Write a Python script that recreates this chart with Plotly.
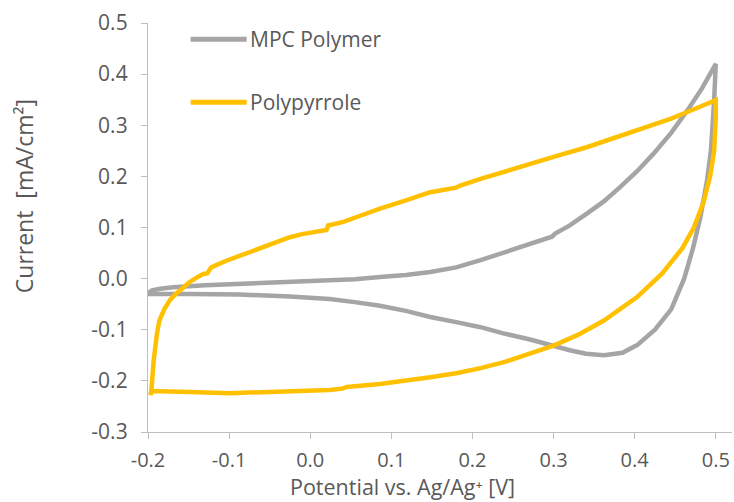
import plotly.graph_objects as go

# ---- data ----
mpc_x = [-0.200, -0.195, -0.185, -0.169, -0.130, -0.087, -0.025, 0.024, 0.055, 0.086,
         0.118, 0.148, 0.180, 0.210, 0.240, 0.271, 0.298, 0.302, 0.320, 0.341,
         0.362, 0.382, 0.403, 0.423, 0.445, 0.465, 0.483, 0.499, 0.500,
         0.498, 0.494, 0.489, 0.481, 0.472, 0.461, 0.445, 0.425, 0.403, 0.385,
         0.362, 0.340, 0.320, 0.300, 0.271, 0.238, 0.210, 0.180, 0.148, 0.118,
         0.086, 0.055, 0.024, -0.025, -0.087, -0.150, -0.200]
mpc_y = [-0.028, -0.023, -0.020, -0.017, -0.013, -0.010, -0.007, -0.004, -0.001, 0.003,
         0.007, 0.013, 0.022, 0.036, 0.052, 0.068, 0.082, 0.088, 0.104, 0.127,
         0.151, 0.179, 0.210, 0.244, 0.285, 0.329, 0.372, 0.417, 0.420,
         0.350, 0.250, 0.190, 0.120, 0.060, 0.000, -0.060, -0.100, -0.130, -0.145,
         -0.150, -0.147, -0.140, -0.131, -0.119, -0.107, -0.095, -0.085, -0.075, -0.063,
         -0.053, -0.046, -0.040, -0.035, -0.031, -0.030, -0.030]

ppy_x = [-0.196, -0.193, -0.189, -0.186, -0.180, -0.173, -0.167, -0.161, -0.155, -0.149,
         -0.140, -0.132, -0.127, -0.122, -0.105, -0.087, -0.070, -0.055, -0.040, -0.025,
         -0.010, 0.000, 0.020, 0.022, 0.041, 0.060, 0.086, 0.118, 0.148, 0.180,
         0.185, 0.210, 0.240, 0.271, 0.300, 0.341, 0.380, 0.423, 0.445, 0.465,
         0.482, 0.498, 0.500,
         0.500, 0.498, 0.493, 0.485, 0.473, 0.459, 0.434, 0.403, 0.362, 0.330,
         0.300, 0.271, 0.240, 0.210, 0.180, 0.148, 0.118, 0.086, 0.045, 0.040,
         0.024, -0.013, -0.046, -0.099, -0.149, -0.196, -0.197]
ppy_y = [-0.222, -0.160, -0.108, -0.082, -0.060, -0.042, -0.032, -0.023, -0.015, -0.007,
         0.002, 0.009, 0.010, 0.022, 0.034, 0.045, 0.055, 0.064, 0.073, 0.081,
         0.087, 0.090, 0.095, 0.104, 0.111, 0.122, 0.137, 0.153, 0.169, 0.178,
         0.182, 0.195, 0.210, 0.225, 0.238, 0.257, 0.278, 0.300, 0.313, 0.326,
         0.338, 0.349, 0.349,
         0.316, 0.250, 0.200, 0.150, 0.100, 0.060, 0.010, -0.036, -0.082, -0.110,
         -0.131, -0.147, -0.163, -0.175, -0.185, -0.193, -0.200, -0.206, -0.212, -0.215,
         -0.218, -0.220, -0.222, -0.224, -0.222, -0.220, -0.228]

x_ticks = [-0.2, -0.1, 0.0, 0.1, 0.2, 0.3, 0.4, 0.5]
x_labels = ["-0.2", "-0.1", "0.0", "0.1", "0.2", "0.3", "0.4", "0.5"]
y_ticks = [-0.3, -0.2, -0.1, 0.0, 0.1, 0.2, 0.3, 0.4, 0.5]
y_labels = ["-0.3", "-0.2", "-0.1", "0.0", "0.1", "0.2", "0.3", "0.4", "0.5"]

series_names = ["MPC Polymer", "Polypyrrole"]
series_colors = ["#A5A5A5", "#FFC000"]
x_title = "Potential vs. Ag/Ag\u207a [V]"
y_title = "Current\u00a0 [mA/cm\u00b2]"

FONT = "Open Sans"
TXT = "#595959"
AX = "#BFBFBF"

fig = go.Figure()
fig.add_trace(go.Scatter(x=mpc_x, y=mpc_y, mode="lines", name=series_names[0],
                         line=dict(color=series_colors[0], width=4.5), showlegend=False))
fig.add_trace(go.Scatter(x=ppy_x, y=ppy_y, mode="lines", name=series_names[1],
                         line=dict(color=series_colors[1], width=4.5), showlegend=False))

# manual legend (Excel-style long samples)
leg_y = [0.960, 0.806]
for name, col, yy in zip(series_names, series_colors, leg_y):
    fig.add_shape(type="line", xref="paper", yref="paper", x0=0.073, x1=0.169,
                  y0=yy, y1=yy, line=dict(color=col, width=5))
    fig.add_annotation(xref="paper", yref="paper", x=0.172, y=yy, text=name,
                       showarrow=False, xanchor="left", yanchor="middle",
                       font=dict(family=FONT, size=21, color=TXT))

# axis titles placed as in the reference
fig.add_annotation(xref="paper", yref="paper", x=0.436, y=-0.134, text=x_title,
                   showarrow=False, xanchor="center", yanchor="middle",
                   font=dict(family=FONT, size=21.5, color=TXT))
fig.add_annotation(xref="paper", yref="paper", x=-0.211, y=0.576, text=y_title,
                   showarrow=False, xanchor="center", yanchor="middle", textangle=-90,
                   font=dict(family=FONT, size=23, color=TXT))

fig.update_layout(
    width=734, height=502,
    margin=dict(l=148, r=2, t=23, b=70),
    paper_bgcolor="white", plot_bgcolor="white",
    font=dict(family=FONT, color=TXT, size=20),
)
fig.update_xaxes(
    range=[-0.2, 0.52], tickvals=x_ticks, ticktext=x_labels, automargin=False,
    showgrid=False, zeroline=False, showline=True, linecolor=AX, linewidth=1.3,
    ticks="outside", ticklen=6, tickcolor=AX, tickwidth=1.3,
    ticklabelstandoff=4,
    tickfont=dict(family=FONT, size=20, color=TXT),
)
fig.update_yaxes(
    range=[-0.3, 0.5], tickvals=y_ticks, ticktext=y_labels, automargin=False,
    showgrid=False, zeroline=False, showline=True, linecolor=AX, linewidth=1.3,
    ticks="outside", ticklen=6, tickcolor=AX, tickwidth=1.3,
    ticklabelstandoff=9,
    tickfont=dict(family=FONT, size=21, color=TXT),
)

fig.write_html("out.html", config={"displayModeBar": False},
               post_script="document.body.style.margin='0';")
